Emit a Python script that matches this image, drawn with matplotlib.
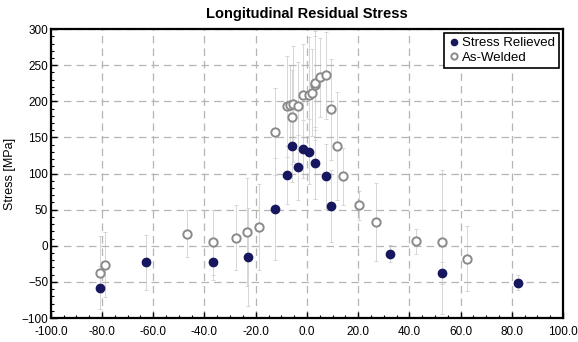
import numpy as np
import matplotlib
matplotlib.use("Agg")
import matplotlib.pyplot as plt
from matplotlib.ticker import MultipleLocator, FormatStrFormatter

plt.rcParams['font.family'] = ['Liberation Sans', 'DejaVu Sans']

# stress relieved samples: position [mm], stress [MPa], scatter
sr_x = [-81, -63, -36.5, -23, -12.3, -7.9, -5.9, -3.6, -1.4, 0.7, 3.2, 7.5, 9.6, 32.6, 52.6, 82.3]
sr_y = [-58, -23, -23, -15, 51, 98, 138, 109, 134, 130, 115, 96, 55, -11, -38, -51]
sr_err = [30, 38, 25, 68, 70, 40, 50, 45, 40, 45, 50, 45, 50, 12, 15, 10]

# as-welded samples
aw_x = [-81, -78.7, -47, -36.5, -27.6, -23.3, -18.9, -12.3, -7.9, -6.7, -5.5, -3.4, -5.7,
        -1.4, 0.7, 1.8, 3.0, 3.3, 5.3, 7.5, 9.6, 11.8, 14, 20.4, 27, 42.6, 52.6, 62.5]
aw_y = [-37, -26, 17, 5, 11, 19, 26, 158, 193, 195, 196, 194, 178,
        209, 209, 212, 222, 225, 233, 236, 189, 138, 96, 56, 33, 6, 5, -18]
aw_err = [50, 45, 33, 45, 45, 75, 60, 60, 70, 55, 80, 60, 65,
          70, 80, 60, 75, 65, 55, 60, 70, 75, 40, 20, 54, 17, 100, 45]

fig = plt.figure(figsize=(5.78, 3.42), dpi=100)
ax = fig.add_axes([0.088, 0.070, 0.886, 0.845])

ax.errorbar(aw_x, aw_y, yerr=aw_err, fmt='none', ecolor='#d6d6d6', elinewidth=0.7,
            capsize=1.5, capthick=0.7, zorder=1)
ax.errorbar(sr_x, sr_y, yerr=sr_err, fmt='none', ecolor='#d6d6d6', elinewidth=0.7,
            capsize=1.5, capthick=0.7, zorder=1)

ax.plot(sr_x, sr_y, 'o', ms=6, mfc='#17175f', mec='#17175f', ls='none',
        label='Stress Relieved', zorder=3)
ax.plot(aw_x, aw_y, 'o', ms=6, mfc='white', mec='#8a8a8a', mew=1.4, ls='none',
        label='As-Welded', zorder=2)

ax.set_xlim(-100, 100)
ax.set_ylim(-100, 300)
ax.xaxis.set_major_locator(MultipleLocator(20))
ax.xaxis.set_minor_locator(MultipleLocator(5))
ax.yaxis.set_major_locator(MultipleLocator(50))
ax.yaxis.set_minor_locator(MultipleLocator(10))
ax.xaxis.set_major_formatter(FormatStrFormatter('%.1f'))

ax.grid(True, which='major', color='#b5b5b5', ls=(0, (6, 4)), lw=0.9)
ax.tick_params(which='major', direction='in', length=4, width=1, labelsize=8.5)
ax.tick_params(axis='x', which='major', pad=6)
ax.tick_params(axis='y', which='major', pad=2)
ax.tick_params(which='minor', direction='in', length=2, width=0.8)
for s in ax.spines.values():
    s.set_linewidth(1.6)

ax.set_ylabel('Stress [MPa]', fontsize=9, labelpad=4)
ax.set_title('Longitudinal Residual Stress', fontsize=10.5, fontweight='bold', pad=8)

leg = ax.legend(loc='upper right', fontsize=9.5, frameon=True, fancybox=False,
                handletextpad=0.1, borderpad=0.3, labelspacing=0.2, handlelength=1,
                markerscale=0.75, borderaxespad=0.3)
leg.get_frame().set_edgecolor('black')
leg.get_frame().set_linewidth(1.2)
leg.get_frame().set_alpha(1)

fig.savefig('out.png', dpi=100)
